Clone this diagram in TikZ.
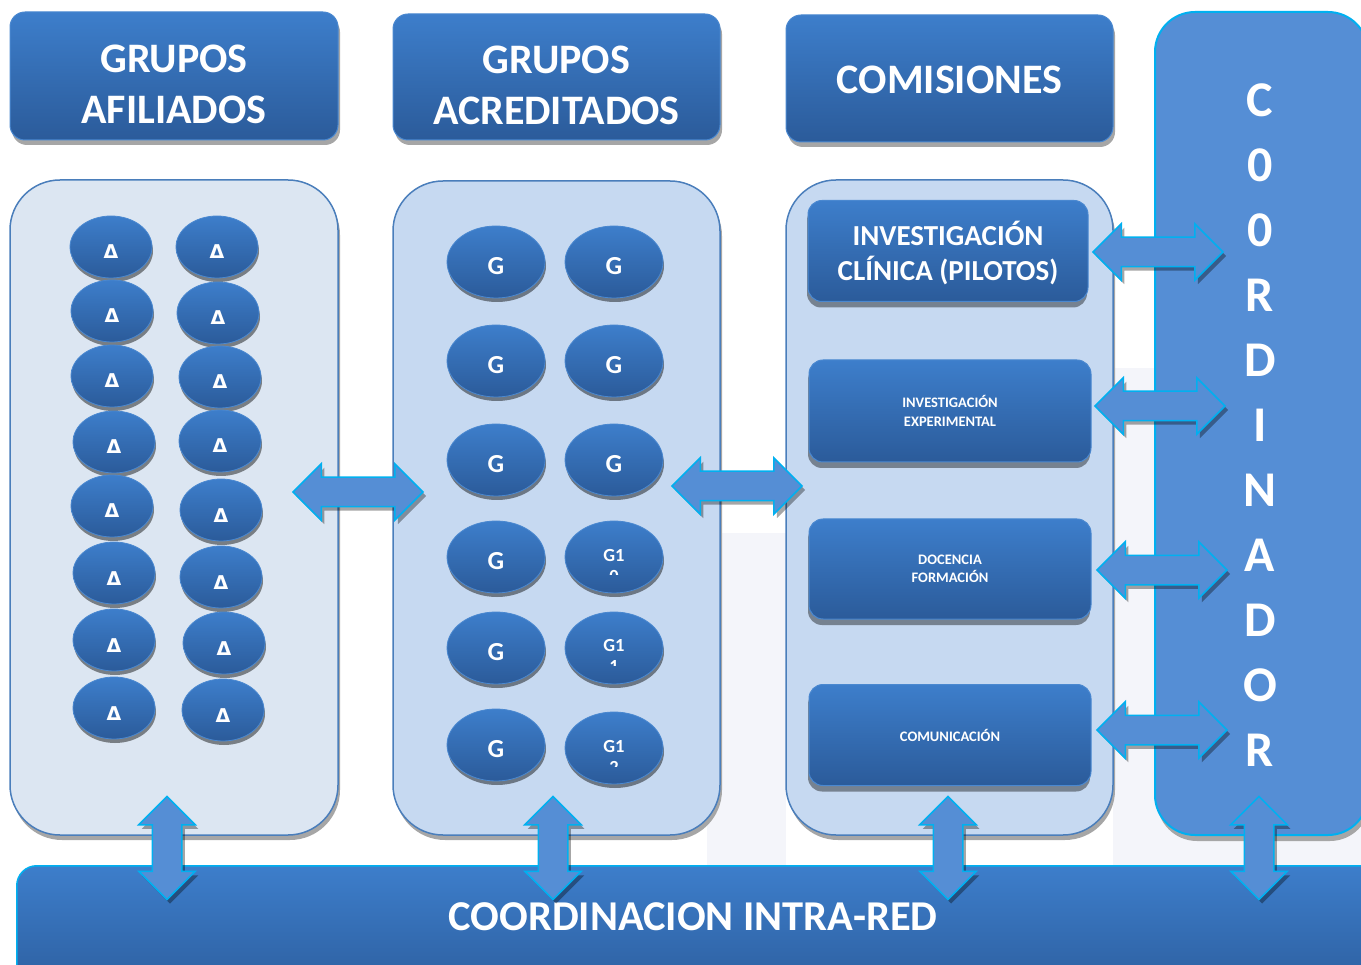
\documentclass[tikz,border=0pt]{standalone}
\usepackage{fontspec}
\setmainfont{Carlito}
\newfontfamily\deltafont{DejaVu Sans}
\usetikzlibrary{shapes.geometric,shapes.arrows,shadows}
\definecolor{bTop}{HTML}{3D7ECB}
\definecolor{bBot}{HTML}{2B5B9A}
\definecolor{bEdge}{HTML}{4A88D0}
\definecolor{panA}{HTML}{DCE6F2}
\definecolor{panB}{HTML}{C6D9F1}
\definecolor{panEdge}{HTML}{4A7EBB}
\definecolor{coordFill}{HTML}{558ED5}
\definecolor{cyanEdge}{HTML}{00B0F0}
\definecolor{faint}{HTML}{F4F5FA}
\newcommand\myfs[2]{\fontsize{#1}{#2}\selectfont}
\begin{document}
\begin{tikzpicture}[x=1pt,y=-1pt,
  bluebox/.style={rectangle, top color=bTop, bottom color=bBot, draw=bEdge,
    line width=1pt, text=white, align=center, inner sep=0pt},
  hdr/.style={bluebox, rounded corners=15pt,
    drop shadow={shadow xshift=2pt, shadow yshift=-5pt, fill=black!35, opacity=1}},
  hdrtxt/.style={text=white, align=center, inner sep=0pt, font=\bfseries\myfs{42}{51}},
  combox/.style={bluebox, rounded corners=14pt, minimum width=280pt, minimum height=101pt,
    drop shadow={shadow xshift=-1pt, shadow yshift=-6pt, fill=black, opacity=0.4}},
  panel/.style={rectangle, rounded corners=50pt, draw=panEdge, line width=1.5pt,
    drop shadow={shadow xshift=2pt, shadow yshift=-5pt, fill=black!35, opacity=1}},
  gel/.style={ellipse, minimum width=98pt, minimum height=72pt, inner sep=0pt,
    top color=bTop, bottom color=bBot, draw=bEdge, line width=0.8pt,
    drop shadow={shadow xshift=1pt, shadow yshift=-4pt, fill=black, opacity=0.45},
    text=white, font=\bfseries\myfs{26}{28}, text height=25pt},
  ael/.style={gel, minimum width=82pt, minimum height=62pt, font=\deltafont\bfseries\myfs{19}{21}, text height=24pt},
  gonetxt/.style={text=white, font=\bfseries\myfs{18.5}{21}, align=center, inner sep=0pt},
  dar/.style={double arrow, fill=coordFill, draw=cyanEdge, line width=1.5pt,
    inner xsep=0pt, inner ysep=14pt, double arrow head extend=13.5pt,
    double arrow tip angle=90, minimum height=130pt, minimum width=55pt,
    drop shadow={shadow xshift=3pt, shadow yshift=-4pt, fill=black, opacity=0.35}},
  dav/.style={dar, minimum height=103pt, rotate=90}
]
\useasboundingbox (0,0) rectangle (1361,965);
\clip (0,0) rectangle (1361,965);
% faint background
\fill[faint] (707,533) rectangle (786,870);
\fill[faint] (1113,368) rectangle (1361,870);
% headers
\node[hdr, minimum width=328pt, minimum height=128pt] (h1) at (174,76) {};
\node[hdrtxt] (h1t) at (174,84) {GRUPOS\\AFILIADOS};
\node[hdr, minimum width=327pt, minimum height=126pt] (h2) at (556.5,77) {};
\node[hdrtxt] (h2t) at (556.5,85) {GRUPOS\\ACREDITADOS};
\node[hdr, minimum width=327pt, minimum height=127pt] (h3) at (949.5,78.5) {};
\node[hdrtxt] (h3t) at (949.5,80) {COMISIONES};
% panels
\node[panel, fill=panA, minimum width=328pt, minimum height=655pt] (p1) at (174,507.5) {};
\node[panel, fill=panB, minimum width=327pt, minimum height=654pt] (p2) at (556.5,508) {};
\node[panel, fill=panB, minimum width=327pt, minimum height=655pt] (p3) at (949.5,507.5) {};
% coordinator
\node[rectangle, rounded corners=40pt, fill=coordFill, draw=cyanEdge, line width=2pt,
  minimum width=213pt, minimum height=823pt,
  drop shadow={shadow xshift=2pt, shadow yshift=-6pt, fill=black!35, opacity=1}]
  (co) at (1261.5,423.5) {};
\node[text=white, font=\bfseries\myfs{50}{65}, align=center, inner sep=0pt] (cot) at (1260,425)
  {C\\0\\0\\R\\D\\I\\N\\A\\D\\O\\R};
% bottom bar
\node[rectangle, rounded corners=20pt, top color=bTop, bottom color=bBot, draw=cyanEdge,
  line width=1.5pt, minimum width=1370pt, minimum height=140pt, anchor=north west]
  (bar) at (16,865) {};
\node[text=white, font=\bfseries\myfs{42.5}{50}, inner sep=0pt] (bart) at (693,917) {COORDINACION INTRA-RED};
% affiliated ellipses
\foreach \n/\x/\y in {1/111/247,2/112/311,3/112/376,4/114/442,5/112/506,6/114/573,7/114/640,8/114/708}
  \node[ael] (al\n) at (\x,\y) {Δ};
\foreach \n/\x/\y in {1/217/247,2/218/313,3/220/377,4/220/441,5/221/510,6/221/577,7/224/643,8/223/710}
  \node[ael] (ar\n) at (\x,\y) {Δ};
% accredited ellipses
\foreach \n/\y in {1/262,2/361,3/460,4/557,5/648,6/745}
  \node[gel] (gl\n) at (496,\y) {G};
\foreach \n/\y in {1/262,2/361,3/460}
  \node[gel] (gr\n) at (614,\y) {G};
\node[gel] (gr4) at (614,557) {};
\node[gel] (gr5) at (614,648) {};
\node[gel] (gr6) at (614,748) {};
\begin{scope}
  \clip (560,530) rectangle (670,574.5);
  \node[gonetxt] (g10) at (614,566) {G1\\0};
\end{scope}
\begin{scope}
  \clip (560,620) rectangle (670,665);
  \node[gonetxt] (g11) at (614,656) {G1\\1};
\end{scope}
\begin{scope}
  \clip (560,720) rectangle (670,766);
  \node[gonetxt] (g12) at (614,757) {G1\\2};
\end{scope}
% commission boxes
\node[combox] (c1) at (948,251) {};
\node[text=white, align=center, inner sep=0pt, font=\bfseries\myfs{29}{35}] (c1t) at (948,253) {INVESTIGACIÓN\\CLÍNICA (PILOTOS)};
\node[combox, minimum width=282pt, minimum height=102pt, font=\bfseries\myfs{14.5}{19}] (c2) at (950,411) {INVESTIGACIÓN\\EXPERIMENTAL};
\node[combox, minimum width=282pt, minimum height=100pt, font=\bfseries\myfs{14.5}{18}] (c3) at (950,569) {DOCENCIA\\FORMACIÓN};
\node[combox, minimum width=282pt, minimum height=101pt, font=\bfseries\myfs{14.5}{18}] (c4) at (950,735) {COMUNICACIÓN};
% horizontal arrows
\node[dar] (a12) at (358,492) {};
\node[dar] (a23) at (737,486) {};
\node[dar] (ac1) at (1158,252) {};
\node[dar] (ac2) at (1160,406) {};
\node[dar] (ac3) at (1162,570) {};
\node[dar] (ac4) at (1162,730) {};
% vertical arrows
\node[dav] (v1) at (167,848) {};
\node[dav] (v2) at (553,848) {};
\node[dav] (v3) at (948,848) {};
\node[dav] (v4) at (1259,848) {};
\end{tikzpicture}
\end{document}
